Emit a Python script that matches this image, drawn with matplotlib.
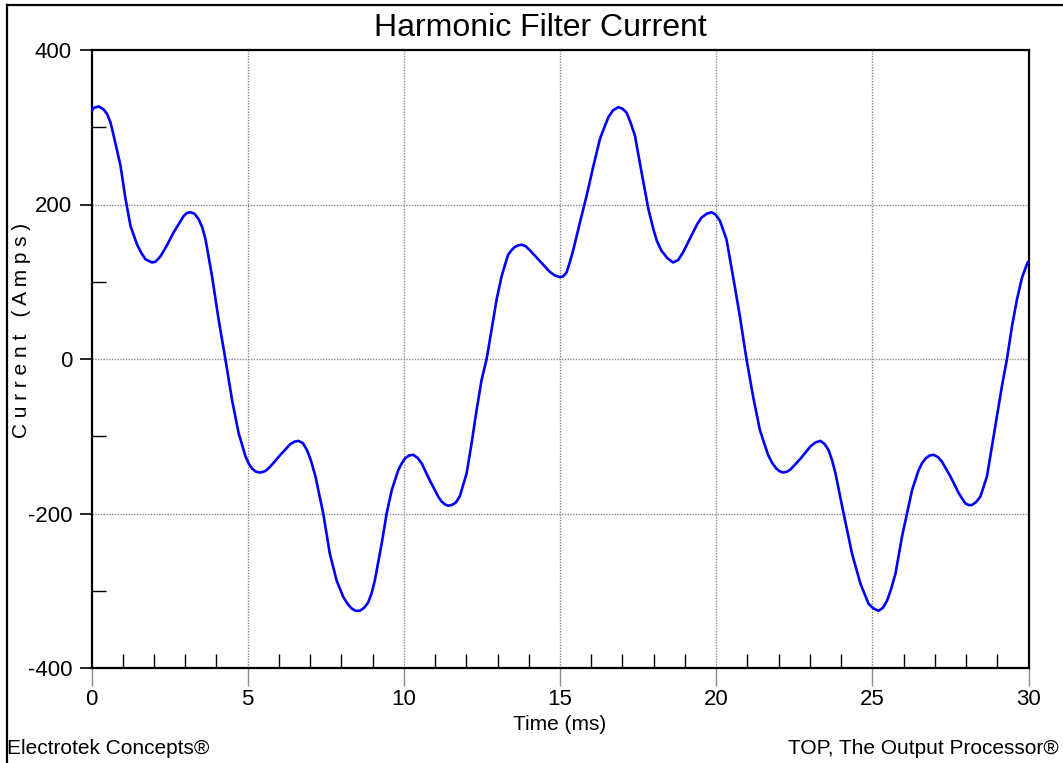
import matplotlib
matplotlib.use("Agg")
import matplotlib.pyplot as plt
from matplotlib import font_manager
from matplotlib.lines import Line2D

# ---- data ----
time_ms = [0.00, 0.07, 0.23, 0.39, 0.50, 0.61, 0.71, 0.93, 1.09, 1.25, 1.46, 1.60, 1.73, 1.94,
           2.05, 2.21, 2.40, 2.63, 2.95, 3.05, 3.17, 3.30, 3.43, 3.55, 3.65, 3.86, 4.07, 4.29,
           4.50, 4.71, 4.93, 5.03, 5.14, 5.27, 5.41, 5.57, 5.73, 6.05, 6.37, 6.50, 6.63, 6.77,
           6.90, 7.03, 7.17, 7.42, 7.63, 7.85, 8.06, 8.20, 8.33, 8.46, 8.59, 8.73, 8.86, 8.97,
           9.07, 9.29, 9.45, 9.61, 9.82, 9.92, 10.03, 10.16, 10.30, 10.44, 10.57, 10.83, 11.10,
           11.20, 11.31, 11.42, 11.53, 11.66, 11.79, 12.01, 12.17, 12.33, 12.49, 12.65, 12.81,
           12.97, 13.13, 13.24, 13.34, 13.45, 13.55, 13.66, 13.77, 13.90, 14.03, 14.35, 14.67,
           14.84, 15.00, 15.10, 15.21, 15.32, 15.43, 15.64, 15.85, 16.07, 16.28, 16.42, 16.55,
           16.70, 16.87, 17.00, 17.13, 17.26, 17.40, 17.61, 17.83, 17.99, 18.10, 18.25, 18.45,
           18.62, 18.78, 18.94, 19.26, 19.40, 19.53, 19.70, 19.85, 19.98, 20.12, 20.33, 20.54,
           20.76, 20.97, 21.18, 21.40, 21.66, 21.80, 21.93, 22.02, 22.14, 22.26, 22.38, 22.70,
           23.02, 23.18, 23.34, 23.47, 23.60, 23.71, 23.82, 24.08, 24.35, 24.62, 24.88, 25.04,
           25.20, 25.34, 25.47, 25.60, 25.74, 25.95, 26.11, 26.27, 26.48, 26.59, 26.70, 26.83,
           26.96, 27.10, 27.23, 27.50, 27.77, 27.88, 27.98, 28.08, 28.19, 28.33, 28.46, 28.67,
           28.83, 28.99, 29.15, 29.31, 29.47, 29.63, 29.79, 29.97, 30.00]
current_amps = [321, 325, 327, 323, 317, 306, 289, 250, 207, 172, 148, 137, 129, 125,
                126, 133, 146, 164, 185, 189, 190, 188, 181, 170, 155, 107, 51, -1,
                -53, -96, -126, -135, -142, -146, -147, -145, -139, -124, -110, -107, -106, -109,
                -118, -132, -152, -200, -252, -287, -308, -317, -323, -326, -326, -322, -315, -303,
                -287, -239, -200, -170, -144, -136, -129, -125, -124, -128, -135, -157, -178,
                -184, -188, -190, -189, -186, -178, -148, -109, -66, -27, 0, 38,
                77, 107, 122, 135, 141, 145, 147, 148, 146, 141, 127, 113,
                108, 106, 107, 112, 126, 142, 177, 211, 250, 285, 300, 313,
                322, 326, 324, 319, 306, 289, 242, 194, 168, 153, 140, 130,
                125, 128, 138, 164, 175, 183, 188, 190, 187, 179, 155, 107,
                55, 0, -48, -92, -124, -135, -142, -145, -147, -146, -143, -129,
                -113, -108, -106, -110, -118, -131, -148, -200, -252, -291, -317, -323,
                -326, -322, -313, -298, -278, -230, -200, -170, -144, -135, -129, -125,
                -124, -127, -133, -152, -174, -181, -187, -189, -189, -185, -178, -152,
                -113, -74, -35, 0, 42, 77, 105, 125, 126]

x_major = [0, 5, 10, 15, 20, 25, 30]
x_minor = [v for v in range(1, 30) if v % 5 != 0]
y_major = [-400, -200, 0, 200, 400]
y_minor = [-300, -100, 100, 300]
title_text = "Harmonic Filter Current"
xlabel_text = "Time (ms)"
ylabel_text = "C u r r e n t   ( A m p s )"
footer_left = "Electrotek Concepts®"
footer_right = "TOP, The Output Processor®"

# ---- fonts ----
available = {f.name for f in font_manager.fontManager.ttflist}
if "Liberation Sans Narrow" in available:
    FONT = ["Liberation Sans Narrow", "DejaVu Sans"]
else:
    FONT = ["Liberation Sans", "DejaVu Sans"]
plt.rcParams["font.family"] = FONT
plt.rcParams["axes.unicode_minus"] = False

W, H = 1063, 763
fig = plt.figure(figsize=(W / 100, H / 100), dpi=100)
fig.patch.set_facecolor("white")

L, R, T, B = 91.5, 1028.5, 50, 668
ax = fig.add_axes([L / W, 1 - B / H, (R - L) / W, (B - T) / H])

ax.plot(time_ms, current_amps, color="#0000ff", lw=1.9, solid_joinstyle="round",
        solid_capstyle="round", zorder=3)

ax.set_xlim(0, 30)
ax.set_ylim(-400, 400)

# dotted gray grid at interior major positions
for xv in x_major[1:-1]:
    ax.axvline(xv, color="#8a8a8a", lw=1.0, ls=(0, (1, 1)), zorder=1)
for yv in y_major[1:-1]:
    ax.axhline(yv, color="#8a8a8a", lw=1.0, ls=(0, (1, 1)), zorder=1)

ax.set_xticks(x_major)
ax.set_yticks(y_major)
ax.set_xticks(x_minor, minor=True)
ax.set_yticks(y_minor, minor=True)
ax.tick_params(axis="x", which="major", direction="out", length=13, width=1.0,
               color="#8a8a8a", pad=2, labelsize=16)
ax.tick_params(axis="x", which="minor", direction="in", length=10, width=1.0, color="black")
ax.tick_params(axis="y", which="major", direction="out", length=9, width=1.2,
               color="black", pad=5, labelsize=16)
ax.tick_params(axis="y", which="minor", direction="in", length=10, width=1.0, color="black")
ax.tick_params(top=False, right=False, which="both")

for s in ax.spines.values():
    s.set_color("black")
    s.set_linewidth(1.6)

# texts
fig.text(540 / W, 1 - 28 / H, title_text, ha="center", va="center", fontsize=23, family=FONT)
fig.text(560 / W, 1 - 724 / H, xlabel_text, ha="center", va="center", fontsize=15, family=FONT)
fig.text(22 / W, 1 - 330 / H, ylabel_text, ha="center", va="center", rotation=90,
         fontsize=15, family=FONT)
fig.text(7 / W, 1 - 748 / H, footer_left, ha="left", va="center", fontsize=15, family=FONT)
fig.text(1059 / W, 1 - 748 / H, footer_right, ha="right", va="center", fontsize=15, family=FONT)

# figure frame lines (left and top)
fig.add_artist(Line2D([7 / W, 7 / W], [0, 1 - 5 / H], transform=fig.transFigure,
                      color="black", lw=1.6))
fig.add_artist(Line2D([7 / W, 1], [1 - 5 / H, 1 - 5 / H], transform=fig.transFigure,
                      color="black", lw=1.6))

fig.savefig("out.png", dpi=100, facecolor="white")
